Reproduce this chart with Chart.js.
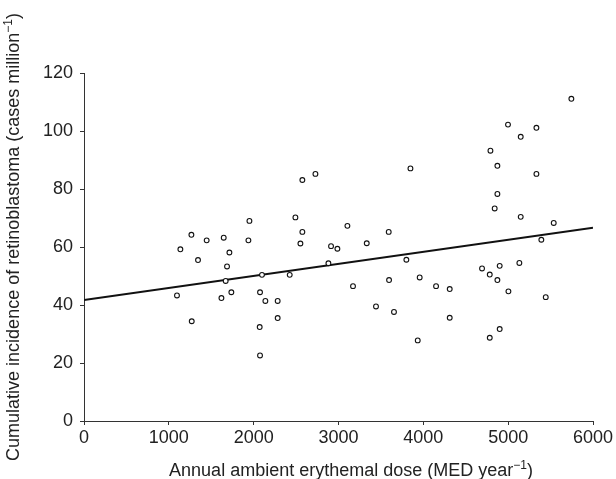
<!DOCTYPE html>
<html>
<head>
<meta charset="utf-8">
<script src="https://cdn.jsdelivr.net/npm/chart.js@4/dist/chart.umd.min.js"></script>
<style>
  html, body { margin: 0; padding: 0; background: #fff; }
  #wrap { width: 616px; height: 479px; }
</style>
</head>
<body>
<div id="wrap"><canvas id="chart" width="616" height="479"></canvas></div>
<script>
// annual ambient erythemal dose (MED/year) for each area
var doseValues = [1096, 1136, 1266, 1270, 1344, 1446, 1620, 1647, 1670, 1686, 1714, 1737,
    1938, 1950, 2071, 2075, 2075, 2098, 2138, 2283, 2283, 2425, 2492, 2551, 2574, 2574,
    2728, 2881, 2912, 2987, 3105, 3171, 3333, 3442, 3592, 3596, 3654, 3800, 3848, 3934,
    3957, 4150, 4311, 4311, 4692, 4783, 4783, 4791, 4841, 4873, 4873, 4873, 4900, 4900,
    4998, 5003, 5132, 5148, 5148, 5333, 5333, 5391, 5443, 5537, 5745];
// cumulative incidence (cases per million)
var incidenceValues = [43.3, 59.2, 64.2, 34.4, 55.5, 62.3, 42.4, 63.2, 48.3, 53.3, 58.1, 44.4,
    62.3, 69.0, 32.4, 22.6, 44.4, 50.4, 41.4, 41.4, 35.5, 50.4, 70.2, 61.2, 65.2, 83.1,
    85.2, 54.4, 60.3, 59.4, 67.3, 46.5, 61.3, 39.5, 65.2, 48.6, 37.6, 55.6, 87.1, 27.8,
    49.5, 46.5, 45.5, 35.6, 52.6, 50.5, 28.7, 93.2, 73.3, 48.6, 78.3, 88.0, 53.5, 31.7,
    102.2, 44.7, 54.5, 98.0, 70.4, 101.1, 85.2, 62.5, 42.7, 68.3, 111.1];
// fitted regression line end points
var fitX = [0, 6000];
var fitY = [41.7, 66.6];
var xTicks = [0, 1000, 2000, 3000, 4000, 5000, 6000];
var yTicks = [0, 20, 40, 60, 80, 100, 120];

// titles: [before superscript, superscript, after]
var xTitle = ['Annual ambient erythemal dose (MED year', '\u22121', ')'];
var yTitle = ['Cumulative incidence of retinoblastoma (cases million', '\u22121', ')'];

var points = [];
for (var i = 0; i < doseValues.length; i++){
    points.push({x: doseValues[i], y: incidenceValues[i]});
}
var fitLine = fitX.map(function(x, i){ return {x: x, y: fitY[i]}; });

var fontFamily = '"Liberation Sans", Arial, sans-serif';

// draws "text^sup)" centred on 0,0 (current transform)
function drawSupText(ctx, parts){
    var big = '18px ' + fontFamily, small = '12px ' + fontFamily;
    ctx.font = big;
    var w1 = ctx.measureText(parts[0]).width;
    var w3 = ctx.measureText(parts[2]).width;
    ctx.font = small;
    var w2 = ctx.measureText(parts[1]).width;
    var x = -(w1 + w2 + w3) / 2;
    ctx.textAlign = 'left';
    ctx.textBaseline = 'alphabetic';
    ctx.font = big;
    ctx.fillText(parts[0], x, 0);
    ctx.font = small;
    ctx.fillText(parts[1], x + w1, -7);
    ctx.font = big;
    ctx.fillText(parts[2], x + w1 + w2, 0);
}

// axis titles drawn by hand so they sit where the original has them
var titlesPlugin = {
    id: 'axisTitles',
    afterDraw: function(chart){
        var ctx = chart.ctx;
        ctx.save();
        ctx.fillStyle = '#222';
        ctx.translate(351, 476);
        drawSupText(ctx, xTitle);
        ctx.restore();
        ctx.save();
        ctx.fillStyle = '#222';
        ctx.translate(19, 237);
        ctx.rotate(-Math.PI / 2);
        drawSupText(ctx, yTitle);
        ctx.restore();
    }
};

var ctx = document.getElementById('chart').getContext('2d');
var chart = new Chart(ctx, {
    type: 'scatter',
    data: {
        datasets: [{
            data: points,
            pointStyle: 'circle',
            pointRadius: 2.4,
            pointBorderWidth: 1.1,
            pointBorderColor: '#111',
            pointBackgroundColor: '#fff'
        }, {
            type: 'line',
            data: fitLine,
            borderColor: '#111',
            borderWidth: 2,
            pointRadius: 0,
            fill: false
        }]
    },
    options: {
        responsive: false,
        animation: false,
        layout: { padding: { top: 73, right: 23, left: 0, bottom: 0 } },
        plugins: {
            legend: { display: false },
            tooltip: { enabled: false }
        },
        scales: {
            x: {
                type: 'linear',
                min: 0,
                max: 6000,
                afterFit: function(scale){ scale.height = 58; },
                afterBuildTicks: function(scale){
                    scale.ticks = xTicks.map(function(v){ return {value: v}; });
                },
                grid: { drawOnChartArea: false, tickLength: 4, color: '#333' },
                border: { color: '#333', width: 1 },
                ticks: {
                    padding: 2,
                    color: '#222',
                    font: { size: 18, family: fontFamily },
                    maxRotation: 0,
                    callback: function(v){ return String(v); }
                }
            },
            y: {
                type: 'linear',
                min: 0,
                max: 120,
                afterFit: function(scale){ scale.width = 84; },
                afterBuildTicks: function(scale){
                    scale.ticks = yTicks.map(function(v){ return {value: v}; });
                },
                grid: { drawOnChartArea: false, tickLength: 4, color: '#333' },
                border: { color: '#333', width: 1 },
                ticks: {
                    padding: 7,
                    color: '#222',
                    font: { size: 18, family: fontFamily }
                }
            }
        }
    },
    plugins: [titlesPlugin]
});
</script>
</body>
</html>
